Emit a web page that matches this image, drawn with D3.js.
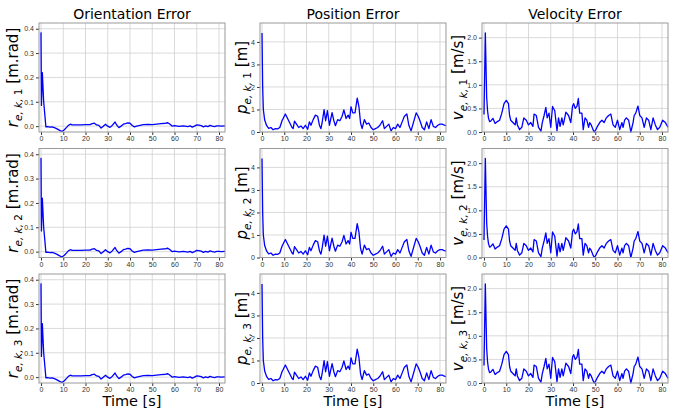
<!DOCTYPE html>
<html>
<head>
<meta charset="utf-8">
<script src="https://cdn.jsdelivr.net/npm/d3@7"></script>
<style>
    body { margin: 0; background: #fff; }
    svg { font-family: "DejaVu Sans", sans-serif; }
    .tick text { font-size: 7px; fill: #333; }
    .tick line { stroke: #333; }
    .grid line { stroke: #d0d0d0; stroke-width: 0.8; }
    .frame { fill: none; stroke: #999; stroke-width: 1; }
</style>
</head>
<body>
<svg id="chart" width="677" height="409"></svg>
<script>
// [time s, error] pairs (all three rows show the same curves)
const orientation = [
    [0, 0.385], [0.2, 0.085], [0.6, 0.22], [1.2, 0.1], [2.2, -0.003], [3, -0.002], [4, -0.004],
    [5, -0.003], [6, -0.006], [7, -0.01], [8, -0.015], [9.4, -0.022], [10.5, -0.015], [11.5, -0.005],
    [12.3, 0.003], [13.2, 0.008], [14, 0.005], [16, 0.005], [18, 0.005], [20, 0.006], [22, 0.006],
    [23, 0.01], [24, 0.012], [25, 0.005], [26, 0.003], [27, -0.008], [28, 0.0], [29, 0.008],
    [30, 0.0], [31, -0.005], [32, 0.003], [33.3, 0.017], [34, 0.005], [35, -0.006], [36, 0.0],
    [37, 0.008], [38, 0.01], [39, 0.013], [40, 0.012], [41, 0.003], [42, -0.003], [43, 0.0],
    [44, 0.002], [46, 0.006], [48, 0.007], [50, 0.006], [52, 0.008], [54, 0.01], [56, 0.012],
    [57, 0.014], [58, 0.008], [59, 0.0], [60, 0.002], [62, -0.001], [64, 0.001], [66, -0.002],
    [67, 0.001], [68, -0.004], [69, 0.0], [70, 0.005], [71, 0.004], [72, 0.002], [73, -0.003],
    [74, 0.001], [75, -0.002], [76, 0.003], [77, 0.0], [78, -0.002], [79, 0.001], [80, 0.001],
    [81, 0.0], [82.7, 0.001]
];

const position = [
    [0, 4.4], [0.3, 2.0], [0.6, 1.0], [1.2, 0.53], [2.1, 0.28], [3, 0.16], [4, 0.2], [5, 0.1],
    [6, 0.15], [7, 0.14], [8, 0.2], [9, 0.5], [10.5, 0.8], [11.5, 0.6], [12.5, 0.4], [13.5, 0.2],
    [14, 0.15], [14.6, 0.48], [15.5, 0.35], [16.5, 0.2], [17.5, 0.27], [18.5, 0.15], [19.5, 0.3],
    [20.5, 0.12], [21.3, 0.45], [22, 0.3], [23, 0.55], [24, 0.75], [25, 0.7], [25.8, 0.3],
    [26.5, 0.15], [27, 0.4], [27.9, 0.99], [28.6, 0.5], [29.4, 0.95], [30.3, 0.3], [31.5, 0.86],
    [32.3, 0.5], [33, 0.28], [34, 0.55], [35, 0.5], [36, 0.7], [36.8, 0.98], [37.8, 0.6],
    [38.7, 0.75], [39.4, 0.6], [40, 1.12], [40.8, 0.85], [41.8, 0.85], [42.8, 1.5], [43.6, 1.1],
    [44.3, 0.4], [45, 0.15], [46, 0.55], [47, 0.35], [48, 0.4], [49, 0.2], [50, 0.1], [51, 0.15],
    [52, 0.2], [53, 0.3], [54.2, 0.5], [55, 0.15], [56, 0.25], [57, 0.35], [58, 0.05], [59, 0.2],
    [60, 0.15], [61, 0.35], [62, 0.2], [63, 0.45], [64, 0.7], [65.1, 0.8], [66, 0.3], [67, 0.05],
    [68, 0.4], [69.3, 0.85], [70.2, 0.7], [71, 0.5], [72, 0.2], [73, 0.1], [74, 0.45], [75, 0.15],
    [76, 0.55], [77, 0.25], [78, 0.2], [79, 0.3], [80, 0.35], [81, 0.35], [82, 0.3], [82.7, 0.28]
];

const velocity = [
    [0, 0.37], [0.6, 2.1], [1.2, 0.73], [1.6, 0.45], [2, 0.3], [2.5, 0.22], [3, 0.23], [4, 0.29],
    [5, 0.18], [6, 0.22], [7, 0.25], [8, 0.4], [9, 0.6], [10, 0.67], [11, 0.6], [11.5, 0.35],
    [12, 0.25], [13, 0.2], [14, 0.15], [14.5, 0.3], [15, 0.15], [16, 0.05], [17, 0.1], [17.9, 0.3],
    [19, 0.25], [20, 0.15], [21, 0.2], [22, 0.12], [22.5, 0.38], [23.5, 0.35], [24.5, 0.1],
    [25.6, 0.02], [26.2, 0.2], [27, 0.35], [27.8, 0.52], [28.4, 0.3], [29.2, 0.4], [30, 0.1],
    [30.8, 0.54], [31.8, 0.45], [32.8, 0.03], [33.5, 0.3], [34.2, 0.12], [35, 0.3], [35.6, 0.15],
    [36.2, 0.28], [36.8, 0.42], [38, 0.35], [39, 0.2], [39.8, 0.55], [40.3, 0.6], [41, 0.5],
    [41.8, 0.55], [42.4, 0.71], [43, 0.4], [44, 0.4], [44.6, 0.05], [45.4, 0.3], [46.2, 0.25],
    [47, 0.1], [47.5, 0.2], [48.2, 0.15], [49, 0.05], [49.6, 0.0], [50.3, 0.05], [51, 0.12],
    [52, 0.2], [53, 0.25], [54, 0.2], [55, 0.3], [56, 0.35], [57, 0.38], [58, 0.15], [59, 0.1],
    [60, 0.25], [61, 0.05], [62, 0.2], [62.5, 0.1], [63.2, 0.25], [64, 0.3], [65, 0.25], [66, 0.0],
    [67, 0.2], [67.5, 0.35], [68.2, 0.4], [69.2, 0.55], [70, 0.35], [71, 0.3], [72, 0.1], [73, 0.3],
    [74, 0.25], [75, 0.05], [76, 0.3], [77, 0.15], [78, 0.05], [79, 0.1], [80.3, 0.25], [81.5, 0.2],
    [82.7, 0.1]
];

const columnTitles = ['Orientation Error', 'Position Error', 'Velocity Error'];
const seriesByColumn = [orientation, position, velocity];
const symbols = ['r', 'p', 'v'];
const units = ['[m.rad]', '[m]', '[m/s]'];
const yDomains = [[-0.024, 0.4235], [0, 4.84], [0, 2.31]];
const yTickValues = [[0, 0.1, 0.2, 0.3, 0.4], [0, 1, 2, 3, 4], [0, 0.5, 1.0, 1.5, 2.0]];
const yTickFormats = ['.1f', 'd', '.1f'];
const xTickValues = [0, 10, 20, 30, 40, 50, 60, 70, 80];
const xDomain = [-0.9, 82.7];
const rowIndex = [1, 2, 3];

const svg = d3.select('#chart');
const colLeft = [39, 260, 482];
const rowTop = [23, 148.5, 274];
const panelW = 186;
const panelH = 109;
const labelX = [18, 247, 463];

function drawPanel(col, row) {
    const x0 = colLeft[col], y0 = rowTop[row];
    const g = svg.append('g').attr('transform', `translate(${x0},${y0})`);

    const x = d3.scaleLinear().domain(xDomain).range([0, panelW]);
    const y = d3.scaleLinear().domain(yDomains[col]).range([panelH, 0]);

    // grid
    g.append('g').attr('class', 'grid')
        .selectAll('line.v').data(xTickValues).enter().append('line')
        .attr('x1', d => x(d)).attr('x2', d => x(d)).attr('y1', 0).attr('y2', panelH);
    g.append('g').attr('class', 'grid')
        .selectAll('line.h').data(yTickValues[col]).enter().append('line')
        .attr('x1', 0).attr('x2', panelW).attr('y1', d => y(d)).attr('y2', d => y(d));

    // axes
    const xAxis = g.append('g').attr('transform', `translate(0,${panelH})`)
        .call(d3.axisBottom(x).tickValues(xTickValues).tickSize(3).tickPadding(1.5).tickFormat(d3.format('d')));
    const yAxis = g.append('g')
        .call(d3.axisLeft(y).tickValues(yTickValues[col]).tickSize(3).tickPadding(2).tickFormat(d3.format(yTickFormats[col])));
    [xAxis, yAxis].forEach(a => a.select('.domain').remove());

    // data line
    const line = d3.line().x(d => x(d[0])).y(d => y(d[1]));
    g.append('path')
        .datum(seriesByColumn[col])
        .attr('d', line)
        .attr('fill', 'none')
        .attr('stroke', '#0000ff')
        .attr('stroke-width', 1.3)
        .attr('stroke-linejoin', 'round');

    g.append('rect').attr('class', 'frame').attr('width', panelW).attr('height', panelH);

    // y label with math subscript
    const lab = svg.append('text')
        .attr('transform', `translate(${labelX[col]},${y0 + panelH / 2}) rotate(-90)`)
        .attr('text-anchor', 'middle')
        .attr('font-size', '15px')
        .attr('fill', '#000');
    lab.append('tspan').attr('font-style', 'italic').text(symbols[col]);
    lab.append('tspan').attr('font-size', '10.5px').attr('dy', 4).attr('font-style', 'italic').text('e, k, ');
    lab.append('tspan').attr('font-size', '10.5px').text(rowIndex[row]);
    lab.append('tspan').attr('dy', -4).text(' ' + units[col]);

    if (row === 0) {
        svg.append('text')
            .attr('x', x0 + panelW / 2).attr('y', y0 - 4)
            .attr('text-anchor', 'middle')
            .attr('font-size', '14px')
            .text(columnTitles[col]);
    }
    if (row === 2) {
        svg.append('text')
            .attr('x', x0 + panelW / 2).attr('y', 406)
            .attr('text-anchor', 'middle')
            .attr('font-size', '14.5px')
            .text('Time [s]');
    }
}

for (let r = 0; r < 3; r++) {
    for (let c = 0; c < 3; c++) drawPanel(c, r);
}
</script>
</body>
</html>
